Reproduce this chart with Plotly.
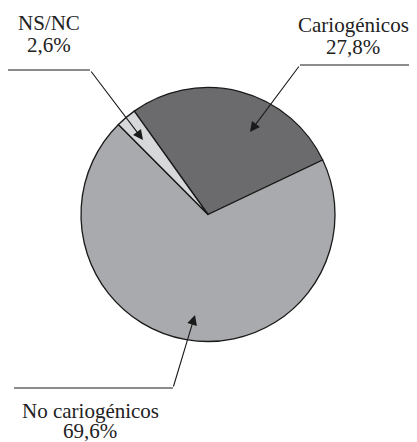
import plotly.graph_objects as go

W, H = 417, 442
OFF = 8  # page body margin around the plot div
FW, FH = W - OFF, H - OFF

labels = ['Cariogénicos', 'No cariogénicos', 'NS/NC']
values = [27.8, 69.6, 2.6]
pct_text = ['27,8%', '69,6%', '2,6%']
colors = ['#6b6b6e', '#a9aaad', '#d7d8da']


def px(x):
    return (x - OFF) / FW


def py(y):
    return 1 - (y - OFF) / FH


fig = go.Figure()

fig.add_trace(go.Pie(
    labels=labels,
    values=values,
    sort=False,
    direction='clockwise',
    rotation=-35.5,
    textinfo='none',
    hoverinfo='label+percent',
    marker=dict(colors=colors, line=dict(color='#1a1a1a', width=1.3)),
    domain=dict(x=[px(81), px(335)], y=[py(342), py(87)]),
    showlegend=False,
))

font = dict(family='Liberation Serif, Times New Roman, serif', size=21, color='#222222')

# label text: x center, y of line 1, y of line 2 (page pixels)
label_pos = {
    'NS/NC': (48.5, 22.5, 44.5),
    'Cariogénicos': (353, 24.5, 47),
    'No cariogénicos': (90, 411, 431),
}
# leader lines: horizontal segment start, bend point, arrow tip
leaders = {
    'NS/NC': ((8, 70), (90, 70), (143, 140)),
    'Cariogénicos': ((417, 65), (300, 65), (250, 132)),
    'No cariogénicos': ((14, 388), (173, 388), (195, 315)),
}

annotations = []
shapes = []
for name, pct in zip(labels, pct_text):
    cx, y1, y2 = label_pos[name]
    for txt, yy in ((name, y1), (pct, y2)):
        annotations.append(dict(
            x=px(cx), y=py(yy), xref='paper', yref='paper',
            text=txt, showarrow=False, font=font,
            xanchor='center', yanchor='middle',
        ))
    start, bend, tip = leaders[name]
    shapes.append(dict(
        type='line', xref='paper', yref='paper',
        x0=px(start[0]), y0=py(start[1]), x1=px(bend[0]), y1=py(bend[1]),
        line=dict(color='#1a1a1a', width=1.2),
    ))
    annotations.append(dict(
        x=px(tip[0]), y=py(tip[1]), xref='paper', yref='paper',
        ax=bend[0] - tip[0], ay=bend[1] - tip[1],
        text='', showarrow=True, arrowhead=2, arrowsize=1.8,
        arrowwidth=1.1, arrowcolor='#1a1a1a',
    ))

fig.update_layout(
    width=FW, height=FH,
    margin=dict(l=0, r=0, t=0, b=0),
    paper_bgcolor='white',
    plot_bgcolor='white',
    annotations=annotations,
    shapes=shapes,
)

fig.write_html("out.html")
